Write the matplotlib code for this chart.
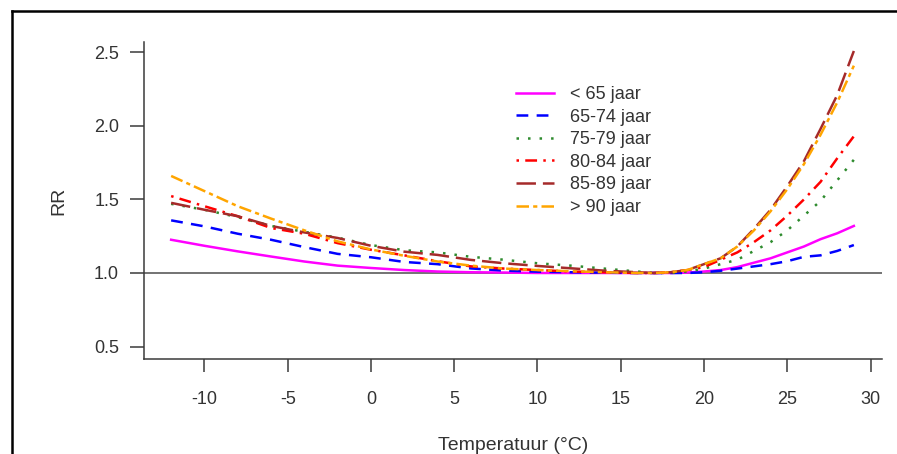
import matplotlib
matplotlib.use("Agg")
import matplotlib.pyplot as plt
from matplotlib.lines import Line2D

plt.rcParams['font.family'] = ['Liberation Sans', 'DejaVu Sans']
plt.rcParams['lines.scale_dashes'] = False

temps = [-12, -10, -8, -6, -4, -2, 0, 2, 4, 6, 8, 10, 12, 14, 16, 17, 18, 19,
         20, 21, 22, 23, 24, 25, 26, 27, 28, 29]

rr_lt65 = [1.226, 1.185, 1.147, 1.112, 1.078, 1.05, 1.034, 1.02, 1.01, 1.005, 1.003, 1.0,
           1.0, 1.0, 1.0, 1.0, 1.0, 1.003, 1.01, 1.02, 1.04, 1.07, 1.10, 1.14, 1.18, 1.23,
           1.27, 1.32]
rr_65_74 = [1.358, 1.317, 1.267, 1.226, 1.176, 1.13, 1.107, 1.075, 1.06, 1.031, 1.016, 1.009,
            1.005, 1.002, 1.0, 1.0, 1.0, 1.0, 1.005, 1.015, 1.03, 1.045, 1.06, 1.08, 1.11,
            1.12, 1.15, 1.19]
rr_75_79 = [1.47, 1.43, 1.38, 1.32, 1.28, 1.24, 1.19, 1.155, 1.14, 1.11, 1.09, 1.066, 1.05,
            1.03, 1.01, 1.0, 1.0, 1.01, 1.03, 1.06, 1.09, 1.15, 1.21, 1.29, 1.39, 1.49, 1.63,
            1.77]
rr_80_84 = [1.523, 1.454, 1.386, 1.306, 1.267, 1.203, 1.158, 1.12, 1.08, 1.045, 1.03, 1.02,
            1.01, 1.005, 1.0, 1.0, 1.005, 1.02, 1.04, 1.09, 1.14, 1.21, 1.29, 1.39, 1.50,
            1.62, 1.78, 1.93]
rr_85_89 = [1.477, 1.43, 1.386, 1.32, 1.276, 1.238, 1.185, 1.145, 1.123, 1.089, 1.066, 1.048,
            1.032, 1.016, 1.005, 1.0, 1.005, 1.02, 1.06, 1.10, 1.18, 1.30, 1.43, 1.59, 1.76,
            1.98, 2.21, 2.51]
rr_gt90 = [1.66, 1.557, 1.454, 1.37, 1.29, 1.215, 1.16, 1.117, 1.078, 1.05, 1.03, 1.02,
           1.012, 1.005, 1.0, 1.0, 1.005, 1.02, 1.06, 1.10, 1.18, 1.29, 1.42, 1.57, 1.74,
           1.94, 2.16, 2.41]

labels = ["< 65 jaar", "65-74 jaar", "75-79 jaar", "80-84 jaar", "85-89 jaar", "> 90 jaar"]
series = [rr_lt65, rr_65_74, rr_75_79, rr_80_84, rr_85_89, rr_gt90]
colors = ["#FF00FF", "#0000FF", "#2E8B2E", "#FF0000", "#A52A2A", "#FFA500"]
dashes = [None, (8.5, 6), (1.8, 6.5), (1.8, 4.5, 8.5, 4.5), (14, 5), (9, 3, 3, 3)]

xticks = [-10, -5, 0, 5, 10, 15, 20, 25, 30]
yticks = [0.5, 1.0, 1.5, 2.0, 2.5]

W, H = 897, 454
fig = plt.figure(figsize=(W / 100, H / 100), dpi=100)
fig.patch.set_facecolor("white")

left, right, bottom, top = 144, 882, 359, 42
ax = fig.add_axes([left / W, 1 - bottom / H, (right - left) / W, (bottom - top) / H])

txt = "#333333"
axcol = "#3a3a3a"
fs = 13

ax.axhline(1.0, color="#4d4d4d", lw=1.1, zorder=1)

for ys, c, d, lab in zip(series, colors, dashes, labels):
    line, = ax.plot(temps, ys, color=c, lw=1.8, label=lab, zorder=2)
    if d is not None:
        line.set_dashes(d)

ax.set_xlim(-13.63, 30.69)
ax.set_ylim(0.415, 2.571)
ax.set_xticks(xticks)
ax.set_xticklabels([str(t) for t in xticks])
ax.set_yticks(yticks)
ax.set_yticklabels([f"{t:.1f}" for t in yticks])

for s in ["top", "right"]:
    ax.spines[s].set_visible(False)
for s in ["left", "bottom"]:
    ax.spines[s].set_color(axcol)
    ax.spines[s].set_linewidth(1.1)

ax.tick_params(axis="x", length=9.4, width=1.1, color=axcol, pad=14,
               labelsize=fs, labelcolor=txt)
ax.tick_params(axis="y", length=10, width=1.1, color=axcol, pad=8,
               labelsize=fs, labelcolor=txt)

ax.set_xlabel("Temperatuur (°C)", fontsize=14, color=txt)
ax.xaxis.set_label_coords(0.5, (bottom - 437) / (bottom - top))
ax.set_ylabel("RR", fontsize=14, color=txt)
ax.yaxis.set_label_coords((67 - left) / (right - left), 0.5)

leg = ax.legend(loc="upper left",
                bbox_to_anchor=((516 - left) / (right - left), (bottom - 86) / (bottom - top)),
                frameon=False, fontsize=fs, handlelength=2.1, handletextpad=0.9,
                labelspacing=0.31, borderaxespad=0, borderpad=0)
for t in leg.get_texts():
    t.set_color(txt)

# outer frame lines (left and top)
fig.add_artist(Line2D([11.5 / W, 11.5 / W], [0, 1 - 10.5 / H], transform=fig.transFigure,
                      color="black", lw=1.8))
fig.add_artist(Line2D([11.5 / W, 1], [1 - 10.5 / H, 1 - 10.5 / H], transform=fig.transFigure,
                      color="black", lw=1.8))

fig.savefig("out.png", dpi=100)
